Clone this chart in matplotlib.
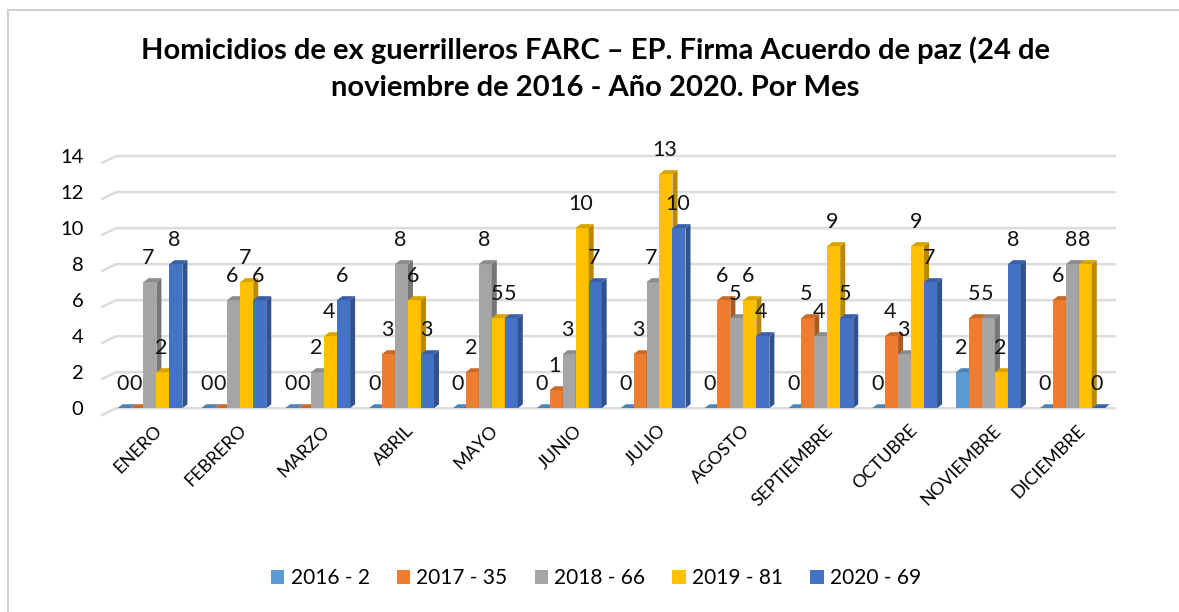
#!/usr/bin/env python3

import numpy as np
import matplotlib
import matplotlib.pyplot as plt
from matplotlib.patches import Polygon, Patch

matplotlib.use('Agg')

months = ['ENERO', 'FEBRERO', 'MARZO', 'ABRIL', 'MAYO', 'JUNIO', 'JULIO',
          'AGOSTO', 'SEPTIEMBRE', 'OCTUBRE', 'NOVIEMBRE', 'DICIEMBRE']
series_names = ['2016 - 2', '2017 - 35', '2018 - 66', '2019 - 81', '2020 - 69']
v2016 = [0, 0, 0, 0, 0, 0, 0, 0, 0, 0, 2, 0]
v2017 = [0, 0, 0, 3, 2, 1, 3, 6, 5, 4, 5, 6]
v2018 = [7, 6, 2, 8, 8, 3, 7, 5, 4, 3, 5, 8]
v2019 = [2, 7, 4, 6, 5, 10, 13, 6, 9, 9, 2, 8]
v2020 = [8, 6, 6, 3, 5, 7, 10, 4, 5, 7, 8, 0]
yticks = [0, 2, 4, 6, 8, 10, 12, 14]

colors = ['#5B9BD5', '#ED7D31', '#A5A5A5', '#FFC000', '#4472C4']
series = [v2016, v2017, v2018, v2019, v2020]

plt.rcParams['font.family'] = ['Lato', 'DejaVu Sans']


def shade(c, f):
    rgb = matplotlib.colors.to_rgb(c)
    return tuple(v * f for v in rgb)


fig = plt.figure(figsize=(11.79, 6.12), dpi=100)
ax = fig.add_axes([0.093, 0.333, 0.857, 0.412])

n = len(months)
index = np.arange(n)
bar_width = 0.155
xlo, xhi = -0.48, 11.57
dx, dy = 0.06, 0.22  # depth of the fake 3d

ax.set_xlim(xlo, xhi)
ax.set_ylim(0, 14)

# gridlines on the back wall with the little slanted bit on the left
for v in yticks:
    ax.plot([xlo - 0.1, xlo + 0.08, xhi - 0.05], [v - 0.4, v, v], color='#dcdcdc',
            lw=1.8, zorder=0, clip_on=False, solid_capstyle='butt')

for i, (vals, c) in enumerate(zip(series, colors)):
    xs = index + (i - 2) * bar_width
    ax.bar(xs, vals, bar_width, color=c, zorder=2 + i, linewidth=0)
    for x, h in zip(xs, vals):
        x0, x1 = x - bar_width / 2, x + bar_width / 2
        # side face
        side = Polygon([(x1, 0), (x1 + dx, dy), (x1 + dx, h + dy), (x1, h)],
                       closed=True, facecolor=shade(c, 0.72), lw=0, zorder=2 + i)
        # top face
        top = Polygon([(x0, h), (x0 + dx, h + dy), (x1 + dx, h + dy), (x1, h)],
                      closed=True, facecolor=shade(c, 0.85), lw=0, zorder=2 + i)
        ax.add_patch(side)
        ax.add_patch(top)
        ax.annotate(str(h), (x, h), xytext=(-1, 10), textcoords='offset points',
                    ha='center', va='bottom', fontsize=15.5, color='#111111', zorder=20)

for s in ax.spines.values():
    s.set_visible(False)
ax.set_yticks(yticks)
ax.set_yticklabels([str(v) for v in yticks], fontsize=14.5)
ax.tick_params(axis='y', length=0, pad=19)
ax.set_xticks(index + 0.05)
ax.set_xticklabels(months, rotation=45, ha='right', va='top',
                   rotation_mode='anchor', fontsize=13)
ax.tick_params(axis='x', length=0, pad=10)

fig.text(0.505, 0.918, 'Homicidios de ex guerrilleros FARC – EP. Firma Acuerdo de paz (24 de',
         ha='center', va='center', fontsize=21, fontweight='bold')
fig.text(0.505, 0.856, 'noviembre de 2016 - Año 2020. Por Mes',
         ha='center', va='center', fontsize=21, fontweight='bold')

handles = [Patch(facecolor=c, label=name) for c, name in zip(colors, series_names)]
fig.legend(handles=handles, loc='center', bbox_to_anchor=(0.5055, 0.055), ncol=5,
           frameon=False, fontsize=15, handlelength=0.65, handleheight=0.65,
           handletextpad=0.3, columnspacing=1.3)

# outer frame of the chart box
fig.add_artist(plt.Line2D([0.007, 0.007], [0, 0.983], color='#d0d0d0', lw=1.5))
fig.add_artist(plt.Line2D([0.007, 1], [0.983, 0.983], color='#d0d0d0', lw=1.5))

fig.savefig('out.png', dpi=100)
